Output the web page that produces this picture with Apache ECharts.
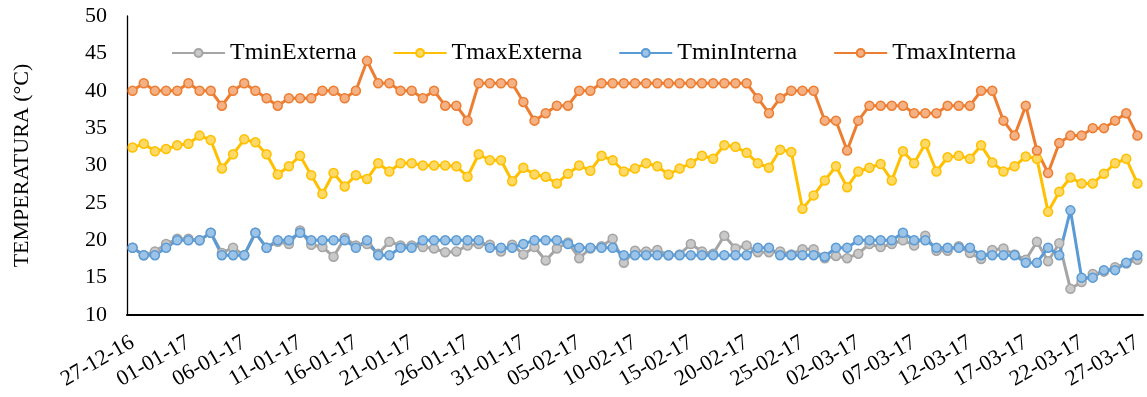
<!DOCTYPE html>
<html>
<head>
<meta charset="utf-8">
<script src="https://cdn.jsdelivr.net/npm/echarts@6/dist/echarts.min.js"></script>
<style>
  html, body { margin: 0; padding: 0; background: #fff; }
  #chart { width: 1147px; height: 397px; }
</style>
</head>
<body>
<div id="chart"></div>
<script>
// dias (dd-mm-yy)
const dias = [
  '27-12-16', '28-12-16', '29-12-16', '30-12-16', '31-12-16',
  '01-01-17', '02-01-17', '03-01-17', '04-01-17', '05-01-17', '06-01-17', '07-01-17', '08-01-17', '09-01-17', '10-01-17',
  '11-01-17', '12-01-17', '13-01-17', '14-01-17', '15-01-17', '16-01-17', '17-01-17', '18-01-17', '19-01-17', '20-01-17',
  '21-01-17', '22-01-17', '23-01-17', '24-01-17', '25-01-17', '26-01-17', '27-01-17', '28-01-17', '29-01-17', '30-01-17',
  '31-01-17', '01-02-17', '02-02-17', '03-02-17', '04-02-17', '05-02-17', '06-02-17', '07-02-17', '08-02-17', '09-02-17',
  '10-02-17', '11-02-17', '12-02-17', '13-02-17', '14-02-17', '15-02-17', '16-02-17', '17-02-17', '18-02-17', '19-02-17',
  '20-02-17', '21-02-17', '22-02-17', '23-02-17', '24-02-17', '25-02-17', '26-02-17', '27-02-17', '28-02-17', '01-03-17',
  '02-03-17', '03-03-17', '04-03-17', '05-03-17', '06-03-17', '07-03-17', '08-03-17', '09-03-17', '10-03-17', '11-03-17',
  '12-03-17', '13-03-17', '14-03-17', '15-03-17', '16-03-17', '17-03-17', '18-03-17', '19-03-17', '20-03-17', '21-03-17',
  '22-03-17', '23-03-17', '24-03-17', '25-03-17', '26-03-17', '27-03-17'
];

const tminExterna = [
  19, 18, 18.5, 19.5, 20.2, 20.2, 20, 21, 18.3, 19, 18, 21, 19, 19.8, 19.5, 21.3,
  19.4, 19.1, 17.8, 20.3, 19.3, 19.5, 18.2, 19.8, 19.3, 19.3, 19.1, 18.9, 18.4, 18.5, 19.3,
  19.5, 19.4, 18.5, 19.4, 18.1, 19.1, 17.3, 18.9, 19.7, 17.6, 18.9, 19.2, 20.2, 17.0, 18.6,
  18.5, 18.7, 18, 18.1, 19.5, 18.5, 18.2, 20.6, 18.9, 19.3, 18.4, 18.4, 18.5, 18.1, 18.8,
  18.8, 17.6, 17.9, 17.6, 18.2, 19.5, 19.1, 19.5, 20, 19.3, 20.6, 18.6, 18.6, 19.2, 18.3, 17.5,
  18.7, 18.9, 18.1, 17.4, 19.8, 17.2, 19.6, 13.5, 14.4, 15.5, 15.8, 16.4, 16.9, 17.4
];

const tmaxExterna = [
  32.4, 32.9, 31.9, 32.2, 32.7, 32.9, 34.0, 33.4, 29.6, 31.5, 33.5, 33.1, 31.5, 28.8, 29.9, 31.3,
  28.7, 26.2, 29.0, 27.2, 28.7, 28.2, 30.3, 29.2, 30.3, 30.3, 30, 30, 30, 29.9, 28.5,
  31.5, 30.7, 30.7, 27.9, 29.7, 28.8, 28.5, 27.6, 28.9, 30.0, 29.3, 31.3, 30.7, 29.2, 29.6,
  30.3, 29.9, 28.8, 29.6, 30.3, 31.3, 30.9, 32.7, 32.5, 31.7, 30.3, 29.7, 32.1, 31.8, 24.2,
  26.0, 28.0, 29.9, 27.1, 29.2, 29.7, 30.2, 28.0, 31.9, 30.3, 32.9, 29.2, 31.1, 31.3, 30.9, 32.7,
  30.4, 29.2, 29.9, 31.2, 30.9, 23.8, 26.5, 28.4, 27.6, 27.6, 28.9, 30.3, 30.9, 27.6
];

const tminInterna = [
  19, 18, 18, 19, 20, 20, 20, 21, 18, 18, 18, 21, 19, 20, 20, 21,
  20, 20, 20, 20, 19, 20, 18, 18, 19, 19, 20, 20, 20, 20, 20,
  20, 19, 19, 19, 19.5, 20, 20, 20, 19.5, 19, 19, 19, 19, 18, 18,
  18, 18, 18, 18, 18, 18, 18, 18, 18, 18, 19, 19, 18, 18, 18,
  18, 17.8, 19, 19, 20, 20, 20, 20, 21, 20, 20, 19, 19, 19, 19, 18,
  18, 18, 18, 17, 17, 19, 18, 24, 15, 15, 16, 16, 17, 18
];

const tmaxInterna = [
  40, 41, 40, 40, 40, 41, 40, 40, 38, 40, 41, 40, 39, 38, 39, 39,
  39, 40, 40, 39, 40, 44, 41, 41, 40, 40, 39, 40, 38, 38, 36,
  41, 41, 41, 41, 38.5, 36, 37, 38, 38, 40, 40, 41, 41, 41, 41,
  41, 41, 41, 41, 41, 41, 41, 41, 41, 41, 39, 37, 39, 40, 40,
  40, 36, 36, 32, 36, 38, 38, 38, 38, 37, 37, 37, 38, 38, 38, 40,
  40, 36, 34, 38, 32, 29, 33, 34, 34, 35, 35, 36, 37, 34
];

const fuente = 'Liberation Serif, Times New Roman, serif';

// serie de linea con marcador
function serie(nombre, datos, linea, relleno) {
  return {
    name: nombre,
    type: 'line',
    data: datos,
    symbol: 'circle',
    symbolSize: 9,
    showAllSymbol: true,
    lineStyle: { color: linea, width: 3 },
    itemStyle: { color: relleno, borderColor: linea, borderWidth: 1.5 },
    emphasis: { disabled: true },
    animation: false,
  };
}

const myChart = echarts.init(document.getElementById('chart'));

const option = {
  backgroundColor: '#fff',
  textStyle: { fontFamily: fuente },
  legend: {
    top: 36,
    left: 166,
    itemWidth: 53,
    itemHeight: 10,
    itemGap: 36,
    textStyle: { fontFamily: fuente, fontSize: 24, color: '#000' },
    data: ['TminExterna', 'TmaxExterna', 'TminInterna', 'TmaxInterna'],
  },
  grid: {
    left: 127,
    right: 4,
    top: 16,
    bottom: 82,
  },
  xAxis: {
    type: 'category',
    data: dias,
    boundaryGap: true,
    axisLine: { lineStyle: { color: '#000', width: 2 } },
    axisTick: { show: false },
    axisLabel: {
      interval: 4,
      rotate: 30,
      margin: 26,
      fontFamily: fuente,
      fontSize: 22,
      color: '#000',
    },
  },
  yAxis: {
    type: 'value',
    min: 10,
    max: 50,
    interval: 5,
    name: 'TEMPERATURA (°C)',
    nameLocation: 'middle',
    nameRotate: 90,
    nameGap: 94,
    nameTextStyle: { fontFamily: fuente, fontSize: 22, color: '#000' },
    axisLine: { show: true, lineStyle: { color: '#000', width: 1.3 } },
    axisTick: { show: false },
    splitLine: { show: false },
    axisLabel: {
      margin: 20,
      fontFamily: fuente,
      fontSize: 22,
      color: '#000',
    },
  },
  series: [
    serie('TminExterna', tminExterna, '#A5A5A5', '#C9C9C9'),
    serie('TmaxExterna', tmaxExterna, '#FFC000', '#FFD966'),
    serie('TminInterna', tminInterna, '#5B9BD5', '#9DC3E6'),
    serie('TmaxInterna', tmaxInterna, '#ED7D31', '#F4B183'),
  ],
};

myChart.setOption(option);
window.addEventListener('resize', myChart.resize);
</script>
</body>
</html>
